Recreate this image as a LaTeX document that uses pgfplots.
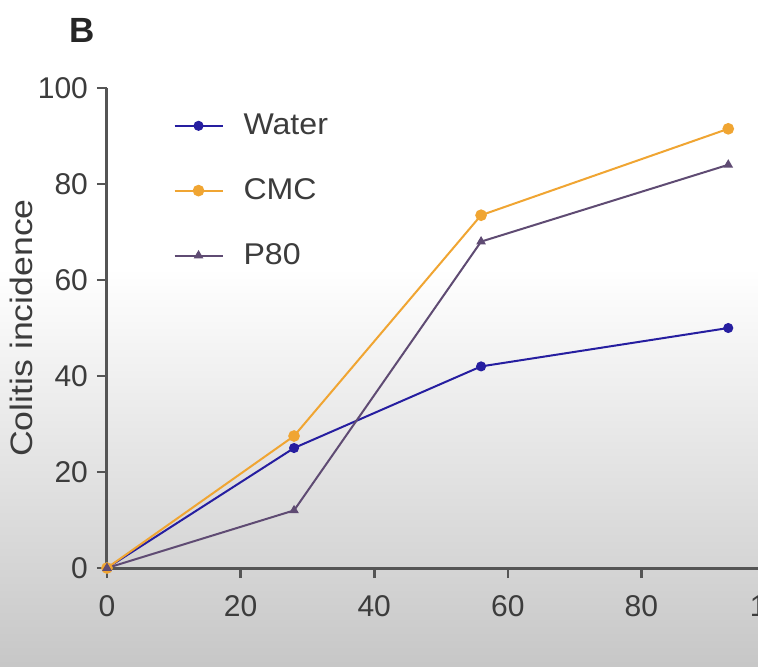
\documentclass[border=0pt]{standalone}
\usepackage{graphicx}
\usepackage{pgfplots}
\pgfplotsset{compat=1.18}
\usepackage{fontspec}
\setmainfont{Liberation Sans}

\definecolor{waterc}{RGB}{38,30,160}
\definecolor{cmcc}{RGB}{240,165,50}
\definecolor{p80c}{RGB}{95,75,115}
\definecolor{axc}{RGB}{85,85,85}
\definecolor{txtc}{RGB}{60,60,60}

\begin{document}
\begin{tikzpicture}
% screenshot background
\fill[white] (-53.5pt,-49pt) rectangle (325.5pt,284pt);
\shade[top color=white, bottom color=black!22] (-53.5pt,-49pt) rectangle (325.5pt,150pt);

\begin{axis}[
    at={(0,0)}, anchor=south west,
    scale only axis,
    width=334pt, height=240pt,
    xmin=0, xmax=100, ymin=0, ymax=100,
    axis x line=bottom, axis y line=left,
    axis line style={-, axc, line width=1.5pt},
    xtick={0,20,...,100}, ytick={0,20,...,100},
    tick align=outside, major tick length=5pt,
    tick style={axc, line width=1.3pt},
    every tick label/.append style={font=\fontsize{15}{17}\selectfont, text=txtc},
    xticklabel style={yshift=-5pt},
    yticklabel style={xshift=-1pt},
    /pgf/number format/assume math mode=true,
    ylabel={\scalebox{1.15}[1]{Colitis incidence}},
    ylabel style={at={(axis description cs:-0.128,0.5)}, anchor=center, rotate=0,
        font=\fontsize{15.5}{17}\selectfont, text=txtc},
    legend style={at={(0.099,0.955)}, anchor=north west, draw=none, fill=none,
        inner sep=0pt, row sep=16.5pt, font=\fontsize{15}{17}\selectfont,
        text=txtc, cells={anchor=west}},
    legend image code/.code={\draw[#1, mark repeat=2, mark phase=2]
        plot coordinates {(0pt,0pt) (12pt,0pt) (24pt,0pt)};},
    clip=false,
]
\addplot[waterc, line width=1pt, mark=*, mark size=2pt] coordinates {
    (0,0) (28,25) (56,42) (93,50)
};
\addlegendentry{\hspace{8pt}\scalebox{1.07}[1]{Water}}
\addplot[cmcc, line width=1pt, mark=*, mark size=2.4pt] coordinates {
    (0,0) (28,27.5) (56,73.5) (93,91.5)
};
\addlegendentry{\hspace{8pt}\scalebox{1.07}[1]{CMC}}
\addplot[p80c, line width=1pt, mark=triangle*, mark size=1.8pt] coordinates {
    (0,0) (28,12) (56,68) (93,84)
};
\addlegendentry{\hspace{8pt}\scalebox{1.07}[1]{P80}}
\end{axis}

\node[font=\fontsize{17.5}{20}\selectfont\bfseries, text=black!85] at (-12.5pt,269pt) {B};

\pgfresetboundingbox
\useasboundingbox (-53.5pt,-49pt) rectangle (325.5pt,284pt);
\end{tikzpicture}
\end{document}
